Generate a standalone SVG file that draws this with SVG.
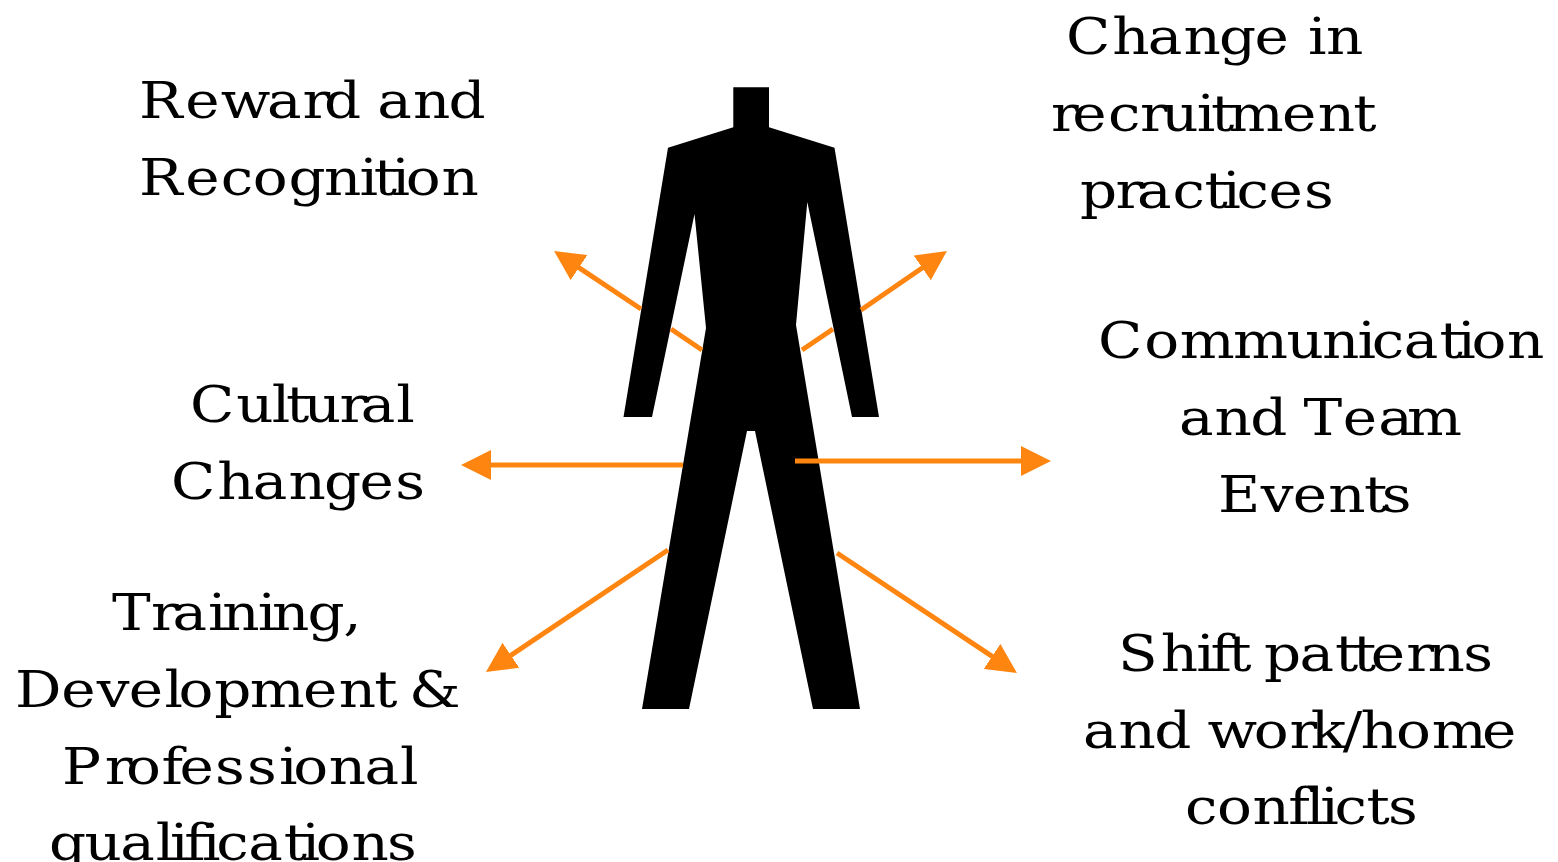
<svg xmlns="http://www.w3.org/2000/svg" width="1558" height="862" viewBox="0 0 1558 862">
<style>
text{font-family:"DejaVu Serif","Liberation Serif",serif;font-size:58px;fill:#000;white-space:pre}
.c{stroke:#ff8511;stroke-width:5;fill:none;marker-end:url(#a)}
</style>
<defs><marker id="a" markerUnits="userSpaceOnUse" markerWidth="31" markerHeight="30" refX="6" refY="15" orient="auto"><path d="M0 0L30 15L0 30Z" fill="#ff8511"/></marker></defs>
<rect width="1558" height="862" fill="#fff"/>
<g id="person"><path d="M733.3 87.3H769V127.3L834.5 147.7L879 417H852L807.3 202L796 325L860 709H813L755 431H747L689 709H642L706 328L694.5 214L652 417H623.5L668 147.7L733.3 127.3Z"/></g>
<g id="connectors">
<path class="c" d="M702 350L671 329M641 309L574 264.3"/>
<path class="c" d="M802 350L833 329M861 310L927.2 264.5"/>
<path class="c" d="M683 465H485"/>
<path class="c" d="M795 461H1027"/>
<path class="c" d="M668 550L505.9 658.6"/>
<path class="c" d="M837 553L997 659.7"/>
</g>
<g id="reward">
<text transform="translate(0,118) scale(1,.862)" x="139 185.2 220.8 267 302.6 323.9 359.5 377.3 412.9 448.5">Reward and</text>
<text transform="translate(0,195) scale(1,.862)" x="139 185.2 220.8 252.8 288.4 324 359.6 373.8 391.6 405.8 441.4">Recognition</text>
</g>
<g id="recruitment">
<text transform="translate(0,54) scale(1,.862)" x="1066 1112.2 1147.8 1183.4 1219 1254.6 1290.2 1308 1326">Change in</text>
<text transform="translate(0,131) scale(1,.862)" x="1051 1072.3 1107.9 1139.9 1161.2 1196.8 1211 1228.8 1282.1 1317.7 1353.3">recruitment</text>
<text transform="translate(0,208) scale(1,.862)" x="1080 1115.6 1136.9 1172.5 1204.5 1222.3 1236.5 1268.5 1304.1">practices</text>
</g>
<g id="cultural">
<text transform="translate(0,422) scale(1,.862)" x="190 236.2 271.8 286 303.8 339.4 360.7 396.3">Cultural</text>
<text transform="translate(0,499) scale(1,.862)" x="171 217.2 252.8 288.4 324 359.6 395.2">Changes</text>
</g>
<g id="communication">
<text transform="translate(0,358) scale(1,.862)" x="1098 1144.2 1179.8 1233.1 1286.4 1322 1357.6 1371.8 1403.8 1439.4 1457.2 1471.4 1507">Communication</text>
<text transform="translate(0,435) scale(1,.862)" x="1179 1214.6 1250.2 1285.8 1303.6 1342.7 1378.3 1407">and Team</text>
<text transform="translate(0,512) scale(1,.862)" x="1218 1260.7 1292.7 1328.3 1363.9 1381.7">Events</text>
</g>
<g id="training">
<text transform="translate(0,630) scale(1,.862)" x="112 151.1 172.4 208 222.2 257.8 272 307.6 343.2">Training,</text>
<text transform="translate(0,707) scale(1,.862)" x="15 61.2 96.8 128.8 164.4 178.6 214.2 249.8 303.1 338.7 374.3 392.1 409">Development &amp;</text>
<text transform="translate(0,784) scale(1,.862)" x="62 104.7 126 161.6 179.4 215 247 279 293.2 328.8 364.4 400">Professional</text>
<text transform="translate(0,860) scale(1,.862)" x="49 84.6 120.2 155.8 170 184.2 202 216.2 248.2 283.8 301.6 315.8 351.4 387">qualifications</text>
</g>
<g id="shift">
<text transform="translate(0,671) scale(1,.862)" x="1118 1160.7 1196.3 1210.5 1228.3 1246.1 1263.9 1299.5 1335.1 1352.9 1370.7 1406.3 1427.6 1463.2">Shift patterns</text>
<text transform="translate(0,748) scale(1,.862)" x="1083 1118.6 1154.2 1189.8 1207.6 1253.8 1289.4 1310.7 1342.7 1360.5 1396.1 1431.7 1482">and work/home</text>
<text transform="translate(0,824) scale(1,.862)" x="1185 1217 1252.6 1288.2 1306 1320.2 1334.4 1366.4 1388">conflicts</text>
</g>
</svg>
